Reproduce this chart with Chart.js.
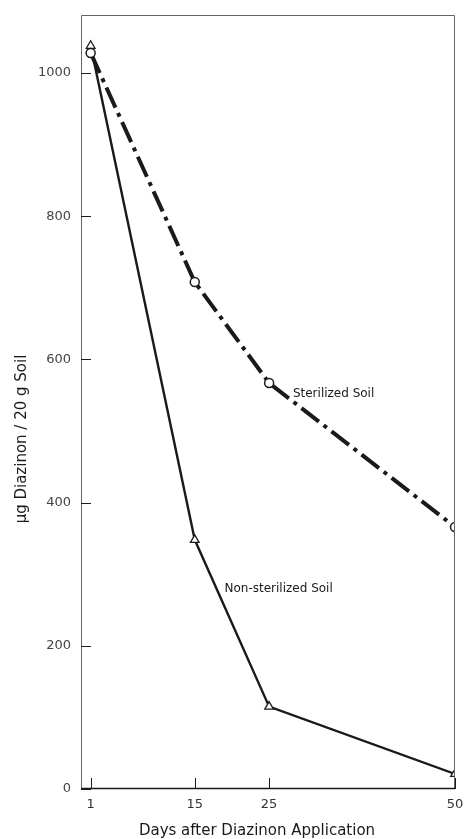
<!DOCTYPE html>
<html><head><meta charset="utf-8">
<script src="https://cdn.jsdelivr.net/npm/chart.js@4.4.1/dist/chart.umd.min.js"></script>
<style>html,body{margin:0;padding:0;background:#fff}#wrap{width:467px;height:839px}</style>
</head><body><div id="wrap"><canvas id="c" width="467" height="839"></canvas></div>
<script>
const days = [1, 15, 25, 50];
const sterilized = [1028, 708, 567, 366];
const nonSterilized = [1038, 348, 115, 21];
const xTickValues = [1, 15, 25, 50];
const yTickValues = [0, 200, 400, 600, 800, 1000];
const yTitle = "µg Diazinon / 20 g Soil";
const xTitle = "Days after Diazinon Application";
const sterLabel = "Sterilized Soil";
const nonSterLabel = "Non-sterilized Soil";

const FONT = "'DejaVu Sans', sans-serif";
const INK = '#1a1a1a';

const decor = {
  id: 'decor',
  afterDatasetsDraw(chart) {
    const {ctx, chartArea: a, scales: {x, y}} = chart;
    ctx.save();
    ctx.strokeStyle = '#666';
    ctx.lineWidth = 1;
    ctx.beginPath();
    ctx.moveTo(a.left + 0.5, a.bottom); ctx.lineTo(a.left + 0.5, a.top + 0.5);
    ctx.lineTo(a.right - 0.5, a.top + 0.5); ctx.lineTo(a.right - 0.5, a.bottom);
    ctx.stroke();
    ctx.strokeStyle = INK; ctx.lineWidth = 1.5;
    ctx.beginPath(); ctx.moveTo(a.left, a.bottom - 0.5); ctx.lineTo(a.right, a.bottom - 0.5); ctx.stroke();
    ctx.strokeStyle = INK; ctx.lineWidth = 1;
    yTickValues.forEach(v => {
      const py = Math.round(y.getPixelForValue(v)) + 0.5;
      ctx.beginPath(); ctx.moveTo(a.left, py); ctx.lineTo(a.left + 10, py); ctx.stroke();
    });
    xTickValues.forEach(v => {
      const px = Math.round(x.getPixelForValue(v)) + 0.5;
      ctx.beginPath(); ctx.moveTo(px, a.bottom); ctx.lineTo(px, a.bottom - 11); ctx.stroke();
    });
    ctx.fillStyle = INK;
    ctx.font = "12px " + FONT;
    ctx.textBaseline = 'middle';
    ctx.textAlign = 'left';
    ctx.fillText(sterLabel, x.getPixelForValue(28.2), y.getPixelForValue(552));
    ctx.fillText(nonSterLabel, x.getPixelForValue(19), y.getPixelForValue(279));
    ctx.font = "15px " + FONT;
    ctx.textAlign = 'center';
    ctx.fillText(xTitle, 257, 831);
    ctx.translate(22, 439);
    ctx.rotate(-Math.PI / 2);
    ctx.fillText(yTitle, 0, 0);
    ctx.restore();
  }
};

new Chart(document.getElementById('c'), {
  type: 'line',
  data: {
    datasets: [
      {
        label: sterLabel,
        data: days.map((d, i) => ({x: d, y: sterilized[i]})),
        borderColor: INK,
        borderWidth: 4,
        borderDash: [22, 6, 4, 6],
        borderCapStyle: 'butt',
        pointStyle: 'circle',
        pointRadius: 4.5,
        pointBackgroundColor: '#fff',
        pointBorderColor: INK,
        pointBorderWidth: 1.5,
        tension: 0
      },
      {
        label: nonSterLabel,
        data: days.map((d, i) => ({x: d, y: nonSterilized[i]})),
        borderColor: INK,
        borderWidth: 2.4,
        pointStyle: 'triangle',
        pointRadius: 5,
        pointBackgroundColor: '#fff',
        pointBorderColor: INK,
        pointBorderWidth: 1.3,
        tension: 0
      }
    ]
  },
  options: {
    responsive: false,
    animation: false,
    devicePixelRatio: 1,
    layout: {padding: {top: 15, right: 12, left: 0, bottom: 0}},
    plugins: {legend: {display: false}, tooltip: {enabled: false}},
    scales: {
      x: {
        type: 'linear', min: -0.3, max: 50,
        grid: {display: false, drawTicks: false},
        border: {display: false},
        afterBuildTicks: s => { s.ticks = xTickValues.map(v => ({value: v})); },
        afterFit: s => { s.height = 50; s.paddingRight = 0; s.paddingLeft = 0; },
        ticks: {padding: 8, color: '#333', font: {size: 13, family: FONT}, maxRotation: 0, autoSkip: false,
                callback: v => String(v)}
      },
      y: {
        type: 'linear', min: 0, max: 1081,
        grid: {display: false, drawTicks: false},
        border: {display: false},
        afterBuildTicks: s => { s.ticks = yTickValues.map(v => ({value: v})); },
        afterFit: s => { s.width = 81; s.paddingTop = 0; s.paddingBottom = 0; },
        ticks: {padding: 10, color: '#444', font: {size: 13, family: FONT}, callback: v => String(v)}
      }
    }
  },
  plugins: [decor]
});
</script></body></html>
